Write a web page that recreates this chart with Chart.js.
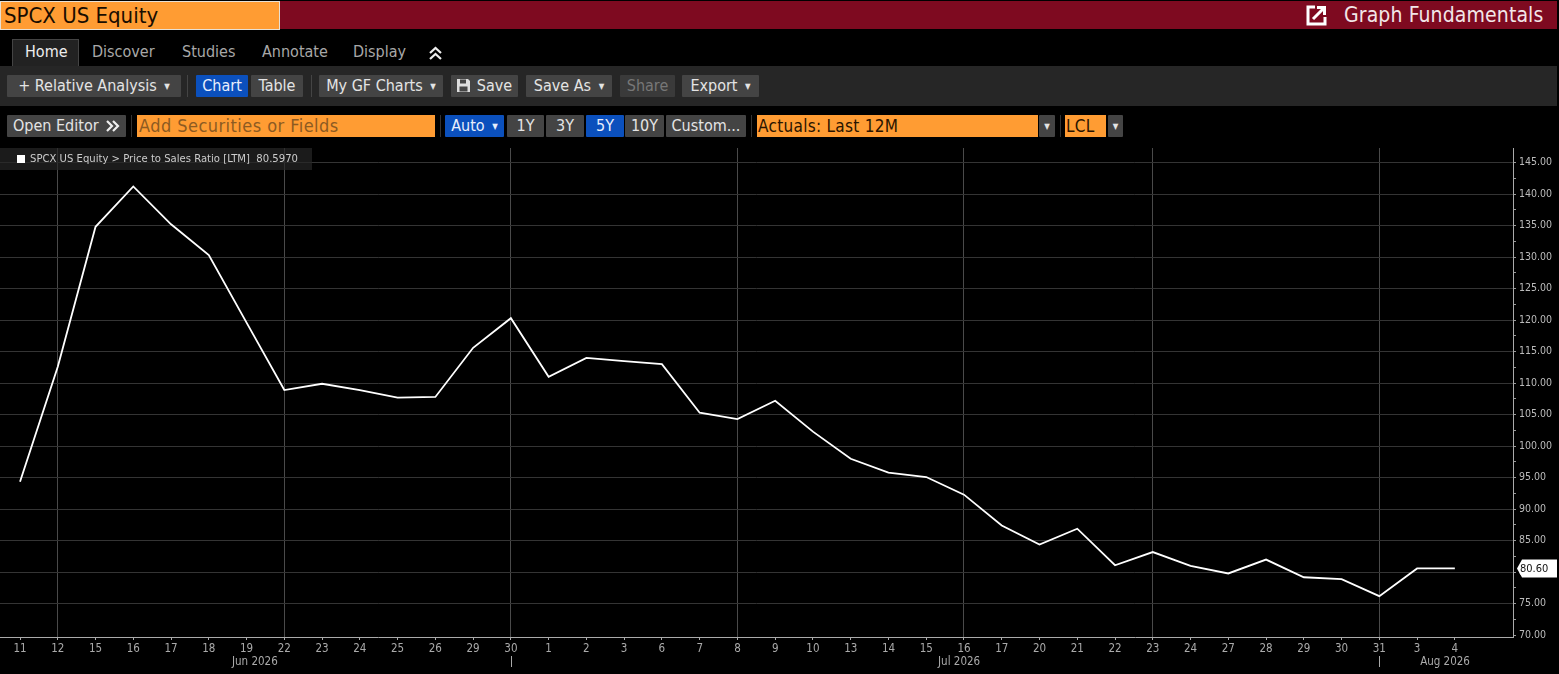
<!DOCTYPE html>
<html>
<head>
<meta charset="utf-8">
<script src="https://cdn.jsdelivr.net/npm/chart.js@4"></script>
<style>
html, body { margin: 0; padding: 0; background: #000; width: 1559px; height: 674px; overflow: hidden; }
body { position: relative; font-family: "DejaVu Sans Condensed", "DejaVu Sans", sans-serif; }
.b { position: absolute; box-sizing: border-box; white-space: nowrap; color: #e4e4e4; font-size: 16px; }
.btn { background: #444; height: 22px; line-height: 22px; text-align: center; font-size: 16px; border-radius: 1px; }
.blue { background: #0b50bd; color: #e8eefc; }
.org { background: #ff9c33; color: #2a1400; height: 22px; line-height: 22px; padding-left: 1px; font-size: 17px; letter-spacing: .3px; }
.tab { top: 43px; line-height: 18px; color: #a8a8a8; font-size: 16px; }
.caret { font-size: 8px; vertical-align: 2px; margin-left: 3px; }
.sep { width: 1px; height: 22px; background: #444; }
#wrap { position: absolute; left: 0; top: 148px; width: 1559px; height: 526px; }
</style>
</head>
<body>
<div class="b" style="left:0;top:1px;width:1557px;height:28px;background:#7e0a20"></div>
<div class="b" style="left:0;top:1px;width:280px;height:29px;background:#ff9c33;border:1px solid #e8e0d4;color:#1a0d00;font-size:22px;line-height:27px;padding-left:3px">SPCX US Equity</div>
<svg class="b" style="left:1306px;top:4px" width="22" height="22" viewBox="0 0 22 22"><path d="M9 3H2V20H19V13" fill="none" stroke="#fff" stroke-width="3"/><path d="M7 15L17 5M11 3.5H18.5V11" fill="none" stroke="#fff" stroke-width="3"/></svg>
<div class="b" style="left:1344px;top:1px;line-height:28px;font-size:21px;letter-spacing:.12px;color:#f2e6e8">Graph Fundamentals</div>

<div class="b" style="left:12px;top:39px;width:67px;height:27px;background:#222;border:1px solid #444;border-bottom:none"></div>
<div class="b tab" style="left:25px;color:#eee">Home</div>
<div class="b tab" style="left:92px">Discover</div>
<div class="b tab" style="left:182px">Studies</div>
<div class="b tab" style="left:262px">Annotate</div>
<div class="b tab" style="left:353px">Display</div>
<svg class="b" style="left:428px;top:46px" width="15" height="15" viewBox="0 0 15 15"><path d="M2 7L7.5 2L13 7M2 13L7.5 8L13 13" fill="none" stroke="#eee" stroke-width="2.2"/></svg>

<div class="b" style="left:0;top:66px;width:1557px;height:40px;background:#262626"></div>
<div class="b btn" style="left:7px;top:75px;width:174px">+ Relative Analysis <span class="caret">▼</span></div>
<div class="b sep" style="left:187px;top:75px"></div>
<div class="b btn blue" style="left:196px;top:75px;width:52px">Chart</div>
<div class="b btn" style="left:251px;top:75px;width:52px">Table</div>
<div class="b sep" style="left:311px;top:75px"></div>
<div class="b btn" style="left:319px;top:75px;width:124px">My GF Charts <span class="caret">▼</span></div>
<div class="b btn" style="left:451px;top:75px;width:67px;padding-left:20px">Save</div>
<svg class="b" style="left:456px;top:78px" width="15" height="15" viewBox="0 0 15 15"><path d="M1 1H12L14 3V14H1Z" fill="#ddd"/><rect x="4" y="1.5" width="6" height="4" fill="#444"/><rect x="3.5" y="8.5" width="8" height="5" fill="#444"/></svg>
<div class="b btn" style="left:526px;top:75px;width:86px">Save As <span class="caret">▼</span></div>
<div class="b btn" style="left:620px;top:75px;width:55px;color:#777;background:#3a3a3a">Share</div>
<div class="b btn" style="left:682px;top:75px;width:77px">Export <span class="caret">▼</span></div>

<div class="b btn" style="left:7px;top:115px;width:119px;text-align:left;padding-left:6px">Open Editor</div>
<svg class="b" style="left:105px;top:119px" width="15" height="14" viewBox="0 0 15 14"><path d="M2 2L7 7L2 12M8 2L13 7L8 12" fill="none" stroke="#eee" stroke-width="2.2"/></svg>
<div class="b sep" style="left:131px;top:115px;background:#333"></div>
<div class="b org" style="left:137px;top:115px;width:298px;color:#8c5a22;padding-left:2px;font-size:18px;letter-spacing:.45px">Add Securities or Fields</div>
<div class="b sep" style="left:440px;top:115px;background:#333"></div>
<div class="b btn blue" style="left:445px;top:115px;width:59px">Auto <span class="caret">▼</span></div>
<div class="b btn" style="left:507px;top:115px;width:37px">1Y</div>
<div class="b btn" style="left:546px;top:115px;width:38px">3Y</div>
<div class="b btn blue" style="left:586px;top:115px;width:38px">5Y</div>
<div class="b btn" style="left:625px;top:115px;width:39px">10Y</div>
<div class="b btn" style="left:666px;top:115px;width:80px">Custom...</div>
<div class="b sep" style="left:751px;top:115px;background:#333"></div>
<div class="b org" style="left:757px;top:115px;width:281px">Actuals: Last 12M</div>
<div class="b btn" style="left:1039px;top:115px;width:16px"><span class="caret" style="margin:0">▼</span></div>
<div class="b sep" style="left:1060px;top:115px;background:#333"></div>
<div class="b org" style="left:1065px;top:115px;width:41px">LCL</div>
<div class="b btn" style="left:1108px;top:115px;width:15px"><span class="caret" style="margin:0">▼</span></div>

<div id="wrap"><canvas id="myChart"></canvas></div>
<div class="b" style="left:0;top:148px;width:312px;height:22px;background:rgba(38,38,38,.7);font-size:11.2px;line-height:21px;color:#ccc;padding-left:30px">SPCX US Equity &gt; Price to Sales Ratio [LTM]&nbsp; 80.5970</div>
<div class="b" style="left:17px;top:155px;width:8px;height:8px;background:#fff"></div>

<script>
const dayLabels = ['11', '12', '15', '16', '17', '18', '19', '22', '23', '24', '25', '26', '29', '30',
    '1', '2', '3', '6', '7', '8', '9', '10', '13', '14', '15', '16', '17', '20', '21', '22', '23', '24', '27', '28', '29', '30', '31',
    '3', '4'];
const priceToSales = [94.35, 112.6, 134.8, 141.2, 135.2, 130.3, 119.6, 108.9, 109.9, 108.9, 107.7, 107.8, 115.6, 120.3,
    111.0, 114.0, 113.5, 113.0, 105.3, 104.3, 107.2, 102.3, 98.0, 95.8, 95.1, 92.3, 87.4, 84.4, 86.9, 81.1, 83.2, 81.0, 79.8, 82.0, 79.2, 78.9, 76.2,
    80.6, 80.597];
const gridDays = [1, 7, 13, 19, 25, 30, 36];
const monthLabels = ['Jun 2026', 'Jul 2026', 'Aug 2026'];
const monthCenters = [6.22, 24.87, 37.74];
const monthStarts = [13, 36];
const yTicks = [];
for (let v = 70; v <= 147.5; v += 2.5) yTicks.push(v);

const fontName = '"DejaVu Sans Condensed", "DejaVu Sans", sans-serif';

// month row under the day labels and the last value tag on the axis
const extras = {
    id: 'extras',
    afterDraw(chart) {
        const c = chart.ctx, xs = chart.scales.x, ys = chart.scales.y;
        c.save();
        c.font = '11.5px ' + fontName;
        c.fillStyle = '#aaa';
        c.textAlign = 'center';
        c.textBaseline = 'middle';
        monthLabels.forEach((m, i) => c.fillText(m, xs.getPixelForValue(monthCenters[i]), 514));
        c.strokeStyle = '#aaa';
        c.beginPath();
        monthStarts.forEach(i => {
            const x = Math.round(xs.getPixelForValue(i)) + 0.5;
            c.moveTo(x, 508);
            c.lineTo(x, 519);
        });
        c.stroke();

        const last = priceToSales[priceToSales.length - 1];
        const y = ys.getPixelForValue(last);
        const l = xs.right + 4;
        c.fillStyle = '#fff';
        c.beginPath();
        c.moveTo(l, y);
        c.lineTo(l + 5, y - 9);
        c.lineTo(1557, y - 9);
        c.lineTo(1557, y + 9);
        c.lineTo(l + 5, y + 9);
        c.closePath();
        c.fill();
        c.font = '11px ' + fontName;
        c.fillStyle = '#111';
        c.textAlign = 'left';
        c.fillText(last.toFixed(2), l + 3, y + 0.5);
        c.restore();
    }
};

const myChart = new Chart(document.getElementById('myChart'), {
    type: 'line',
    data: {
        datasets: [{
            label: 'SPCX US Equity > Price to Sales Ratio [LTM]',
            data: priceToSales.map((v, i) => ({ x: i, y: v })),
            borderColor: '#fff',
            borderWidth: 1.8,
            pointRadius: 0,
            tension: 0,
        }]
    },
    options: {
        responsive: true,
        maintainAspectRatio: false,
        animation: false,
        layout: { padding: 0 },
        plugins: { legend: { display: false }, title: { display: false }, tooltip: { enabled: false } },
        scales: {
            x: {
                type: 'linear',
                min: -0.53,
                max: 39.54,
                border: { color: '#aaa' },
                afterBuildTicks: s => { s.ticks = dayLabels.map((_, i) => ({ value: i })); },
                afterFit: s => { s.height = 37; s.paddingLeft = 0; s.paddingRight = 0; },
                grid: {
                    color: ctx => gridDays.includes(ctx.tick.value) ? '#4a4a4a' : 'transparent',
                    tickColor: '#aaa',
                    tickLength: 3,
                },
                ticks: {
                    autoSkip: false,
                    maxRotation: 0,
                    padding: 2,
                    color: '#aaa',
                    font: { family: fontName, size: 11.5 },
                    callback: v => dayLabels[v],
                },
            },
            y: {
                position: 'right',
                min: 69.72,
                max: 147.3,
                border: { color: '#aaa' },
                afterBuildTicks: s => { s.ticks = yTicks.map(v => ({ value: v })); },
                afterFit: s => { s.width = 46; s.paddingTop = 0; s.paddingBottom = 0; },
                grid: {
                    color: ctx => (ctx.tick.value % 5 === 0 && ctx.tick.value > 70) ? '#343434' : 'transparent',
                    tickColor: '#999',
                    tickLength: 3,
                },
                ticks: {
                    autoSkip: false,
                    padding: 3,
                    color: '#bbb',
                    font: { family: fontName, size: 10.5 },
                    callback: v => v % 5 === 0 ? v.toFixed(2) : '',
                },
            },
        },
    },
    plugins: [extras],
});
</script>
</body>
</html>
